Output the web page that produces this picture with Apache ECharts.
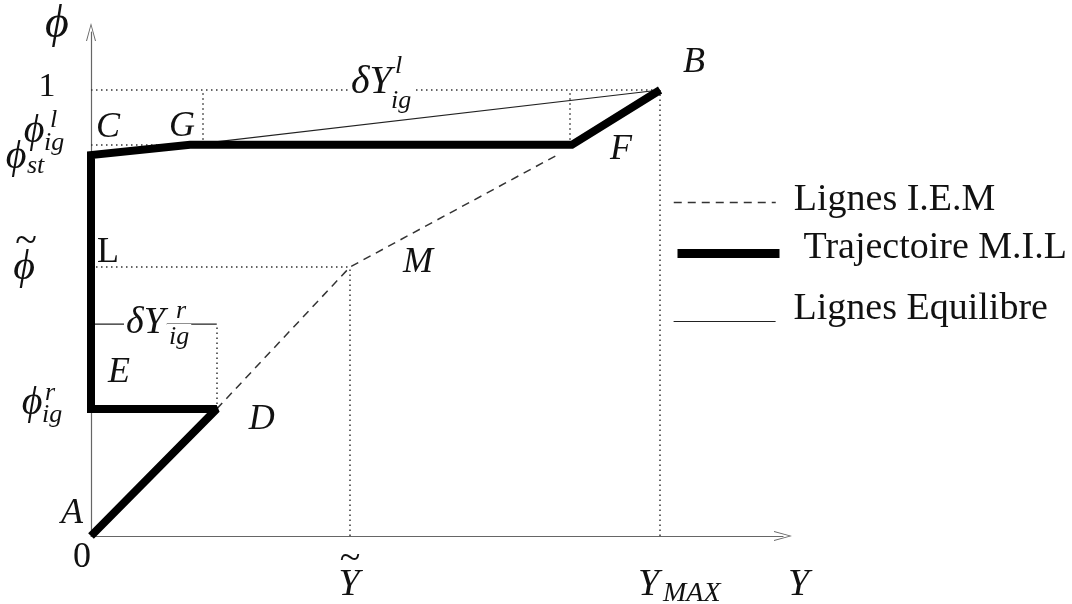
<!DOCTYPE html>
<html><head><meta charset="utf-8">
<script src="https://cdn.jsdelivr.net/npm/echarts@6/dist/echarts.min.js"></script>
<style>html,body{margin:0;padding:0;background:#fff}#c{width:1072px;height:604px}</style>
</head><body><div id="c"></div><script>
// ---- data (Y normalised by Y_MAX, phi normalised by 1) ----
const pointNames = ['A', 'D', 'E', 'C', 'G', 'F', 'B'];
const trajY   = [0, 0.221, 0, 0, 0.174, 0.845, 1];
const trajPhi = [0, 0.285, 0.285, 0.854, 0.877, 0.877, 1];
const iemNames = ['', 'M', ''];
const iemY   = [0.221, 0.455, 0.819];
const iemPhi = [0.285, 0.603, 0.854];
const eqUpperY   = [0.174, 1];
const eqUpperPhi = [0.877, 1];
const eqLowerY   = [0, 0.221];
const eqLowerPhi = [0.475, 0.475];
const phiLevels = {one: 1, igL: 0.877, st: 0.854, tilde: 0.603, igR: 0.285};
const yLevels = {max: 1, tilde: 0.455, gMark: 0.197, fMark: 0.842};
const axisMax = {y: 1.216, phi: 1.130};
const guideSegments = [
  [[0, phiLevels.one], [yLevels.max, phiLevels.one]],
  [[yLevels.max, 0], [yLevels.max, phiLevels.one]],
  [[yLevels.gMark, phiLevels.igL], [yLevels.gMark, phiLevels.one]],
  [[yLevels.fMark, phiLevels.igL], [yLevels.fMark, phiLevels.one]],
  [[0, phiLevels.igL], [yLevels.gMark, phiLevels.igL]],
  [[0, phiLevels.tilde], [yLevels.tilde, phiLevels.tilde]],
  [[yLevels.tilde, 0], [yLevels.tilde, phiLevels.tilde]],
  [[trajY[1], phiLevels.igR], [trajY[1], eqLowerPhi[1]]]
];
const legendNames = ['Lignes I.E.M', 'Trajectoire M.I.L', 'Lignes Equilibre'];

// ---- styles ----
const FONT = '"Liberation Serif", "DejaVu Serif", serif';
const INK = '#111';
const PHI = '\u03D5';
const labelOffsets = {A:[-19,-22], D:[45,11], E:[28,-36], C:[17,-28], G:[-8,-18], F:[49,5], B:[34,-27], M:[68,-5], L:[17,-15]};
const arrowPath = 'path://M5,0 L10,18 L9,18 L5,3 L1,18 L0,18 Z';

function mp(name, coord, upright) {
  return {name: name, coord: coord, label: {offset: labelOffsets[name], fontStyle: upright ? 'normal' : 'italic'}};
}
const markPointBase = {
  symbol: 'circle', symbolSize: 1, itemStyle: {color: 'rgba(0,0,0,0)'}, silent: true,
  label: {show: true, position: 'inside', formatter: p => p.name, fontFamily: FONT, fontSize: 36, color: INK, fontStyle: 'italic'}
};

function txt(str, x, y, size, o) {
  o = o || {};
  return {type: 'text', x: x, y: y, z: 100, silent: true,
    style: {text: str, fontFamily: o.family || FONT, fontSize: size, fontStyle: o.upright ? 'normal' : 'italic',
      fill: INK, align: o.align || 'center', verticalAlign: 'middle',
      backgroundColor: o.bg, padding: o.pad}};
}
function legendItem(name, top, lineW, padLeft, lift) {
  return {
    data: [name], left: 673, top: top, padding: 0, itemWidth: 102, itemHeight: 14, selectedMode: false,
    lineStyle: {width: lineW, opacity: 1}, itemStyle: {opacity: 0, borderWidth: 0},
    formatter: n => '{t|' + n + '}\n{s| }',
    textStyle: {color: INK, padding: [0, 0, 0, padLeft],
      rich: {t: {fontFamily: FONT, fontSize: 38, color: INK}, s: {fontSize: 1, lineHeight: lift}}}
  };
}

const chart = echarts.init(document.getElementById('c'), null, {renderer: 'canvas'});
const axisCommon = {
  type: 'value', min: 0,
  axisLine: {show: true, symbol: ['none', arrowPath], symbolSize: [10, 18], lineStyle: {color: '#666', width: 1.2}},
  axisTick: {show: false}, axisLabel: {show: false}, splitLine: {show: false}
};

chart.setOption({
  animation: false,
  backgroundColor: '#fff',
  grid: {left: 91, right: 289, top: 32, bottom: 68},
  xAxis: Object.assign({}, axisCommon, {max: axisMax.y}),
  yAxis: Object.assign({}, axisCommon, {max: axisMax.phi}),
  legend: [
    legendItem(legendNames[0], 181, 1.5, 13, 5),
    legendItem(legendNames[1], 229, 9, 19, 11),
    legendItem(legendNames[2], 290, 1.2, 13, 25)
  ],
  series: [
    {type: 'lines', coordinateSystem: 'cartesian2d', z: 1, silent: true,
     lineStyle: {color: '#333', width: 1.5, type: [1.5, 3.5], opacity: 1, curveness: 0},
     data: guideSegments.map(s => ({coords: s}))},
    {name: legendNames[2], type: 'line', z: 2, symbol: 'none', silent: true, color: '#222',
     lineStyle: {color: '#222', width: 1.2},
     data: eqUpperY.map((v, i) => [v, eqUpperPhi[i]])},
    {name: legendNames[2], type: 'line', z: 2, symbol: 'none', silent: true, color: '#222',
     lineStyle: {color: '#222', width: 1.2},
     data: eqLowerY.map((v, i) => [v, eqLowerPhi[i]])},
    {name: legendNames[0], type: 'line', z: 2, symbol: 'none', silent: true, color: '#333',
     lineStyle: {color: '#333', width: 1.5, type: [8, 6]},
     data: iemY.map((v, i) => [v, iemPhi[i]]),
     markPoint: Object.assign({}, markPointBase, {data: [mp(iemNames[1], [iemY[1], iemPhi[1]])]})},
    {name: legendNames[1], type: 'line', z: 3, symbol: 'none', silent: true, color: '#000',
     lineStyle: {color: '#000', width: 8, join: 'miter', miterLimit: 2, cap: 'butt'},
     data: trajY.map((v, i) => [v, trajPhi[i]]),
     markPoint: Object.assign({}, markPointBase, {
       data: pointNames.map((n, i) => mp(n, [trajY[i], trajPhi[i]])).concat([mp('L', [0, phiLevels.tilde], true)])
     })}
  ],
  graphic: [
    txt(PHI, 57, 25, 46),
    txt('1', 47, 87, 34, {upright: true}),
    txt(PHI, 34, 131, 40), txt('l', 50, 120, 26, {align: 'left'}), txt('ig', 44, 143, 26, {align: 'left'}),
    txt(PHI, 16, 157, 40), txt('st', 27, 166, 26, {align: 'left'}),
    txt('~', 26, 242, 40, {upright: true}), txt(PHI, 24, 268, 42),
    txt(PHI, 32, 403, 40), txt('r', 45, 393, 26, {align: 'left'}), txt('ig', 42, 415, 26, {align: 'left'}),
    txt('\u03B4Y', 349, 82, 40, {align: 'left', bg: '#fff', pad: [0, 2, 0, 2]}),
    txt('l', 395, 66, 26, {align: 'left'}),
    txt('ig', 389, 101, 26, {align: 'left', bg: '#fff', pad: [0, 2, 0, 2]}),
    txt('\u03B4Y', 124, 323, 38, {align: 'left', bg: '#fff', pad: [0, 2, 0, 2]}),
    txt('r', 176, 311, 26, {align: 'left'}),
    txt('ig', 167, 337, 26, {align: 'left', bg: '#fff', pad: [0, 2, 0, 2]}),
    txt('0', 82, 558, 36, {upright: true}),
    txt('~', 350, 559, 38, {upright: true}), txt('Y', 349, 585, 38),
    txt('Y', 638, 585, 38, {align: 'left'}), txt('MAX', 663, 594, 28, {align: 'left'}),
    txt('Y', 788, 585, 38, {align: 'left'})
  ]
});
</script></body></html>
